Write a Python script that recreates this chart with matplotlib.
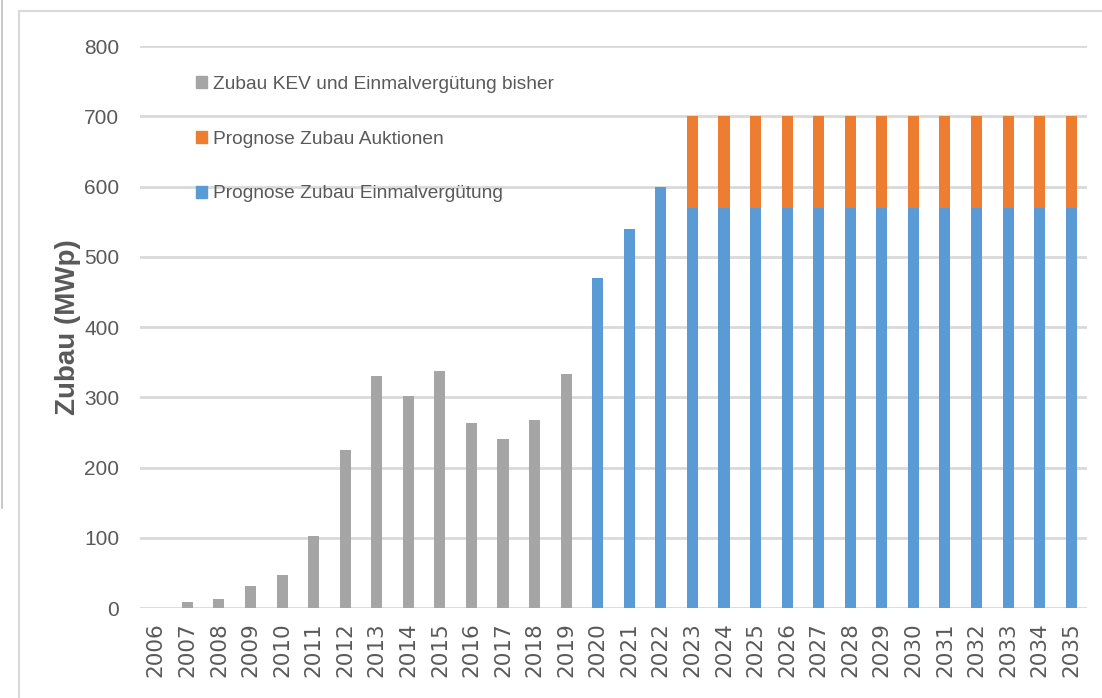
import matplotlib
matplotlib.use("Agg")
import matplotlib.pyplot as plt
from matplotlib.patches import Patch, Rectangle
from matplotlib.lines import Line2D
import numpy as np

years = [str(y) for y in range(2006, 2036)]
bisher = [0, 8, 13, 32, 47, 102, 225, 330, 302, 337, 264, 240, 268, 333] + [0] * 16
einmal = [0] * 14 + [470, 540, 600] + [570] * 13
auktionen = [0] * 17 + [130] * 13

labels = ["Zubau KEV und Einmalvergütung bisher",
          "Prognose Zubau Auktionen",
          "Prognose Zubau Einmalvergütung"]
c_gray = "#A5A5A5"
c_orange = "#ED7D31"
c_blue = "#5B9BD5"
txt = "#595959"

W, H = 1102, 698
fig = plt.figure(figsize=(W / 100, H / 100), dpi=100)
ax = fig.add_axes([140 / W, 1 - 608 / H, (1087 - 140) / W, (608 - 46) / H])

sans = ["Liberation Sans", "DejaVu Sans"]

x = np.arange(len(years))
bw = 0.35
ax.bar(x, bisher, bw, color=c_gray, zorder=3)
ax.bar(x, einmal, bw, color=c_blue, zorder=3)
ax.bar(x, auktionen, bw, bottom=einmal, color=c_orange, zorder=3)

ax.set_xlim(-0.5, len(years) - 0.5)
ax.set_ylim(0, 800)
ax.set_yticks(range(0, 801, 100))
ax.set_xticks(x)
ax.set_xticklabels(years, rotation=90, family=["DejaVu Sans"],
                   fontsize=15.5, color=txt)
for lb in ax.get_yticklabels():
    lb.set_family(sans)
    lb.set_fontsize(15)
    lb.set_color(txt)
ax.tick_params(axis="y", length=0, pad=15)
ax.tick_params(axis="x", length=0, pad=10)
ax.yaxis.grid(True, color="#D9D9D9", lw=2, zorder=0)
for s in ax.spines.values():
    s.set_visible(False)
ax.set_ylabel("Zubau (MWp)", fontsize=20, fontweight="bold", color=txt,
              family=sans)
ax.yaxis.set_label_coords(81 / W, 0.5 * (1 - 238 / H + 1 - 417 / H),
                          transform=fig.transFigure)

handles = [Patch(color=c_gray), Patch(color=c_orange), Patch(color=c_blue)]
leg = fig.legend(handles, labels, loc="upper left",
                 bbox_to_anchor=(186 / W, 1 - 66 / H), frameon=False,
                 handlelength=0.6, handleheight=0.6, handletextpad=0.3,
                 labelspacing=1.98, borderpad=0,
                 prop={"family": sans, "size": 13.8})
for t in leg.get_texts():
    t.set_color(txt)

# outer frame of screenshot
fig.add_artist(Rectangle((19 / W, -0.05), 1.2, 1 - 11 / H + 0.05,
                         transform=fig.transFigure, fill=False,
                         edgecolor="#D9D9D9", lw=1.5))
fig.add_artist(Line2D([1.5 / W, 1.5 / W], [1, 1 - 508 / H],
                      transform=fig.transFigure, color="#BFBFBF", lw=1.2))

fig.savefig("out.png", dpi=100)
